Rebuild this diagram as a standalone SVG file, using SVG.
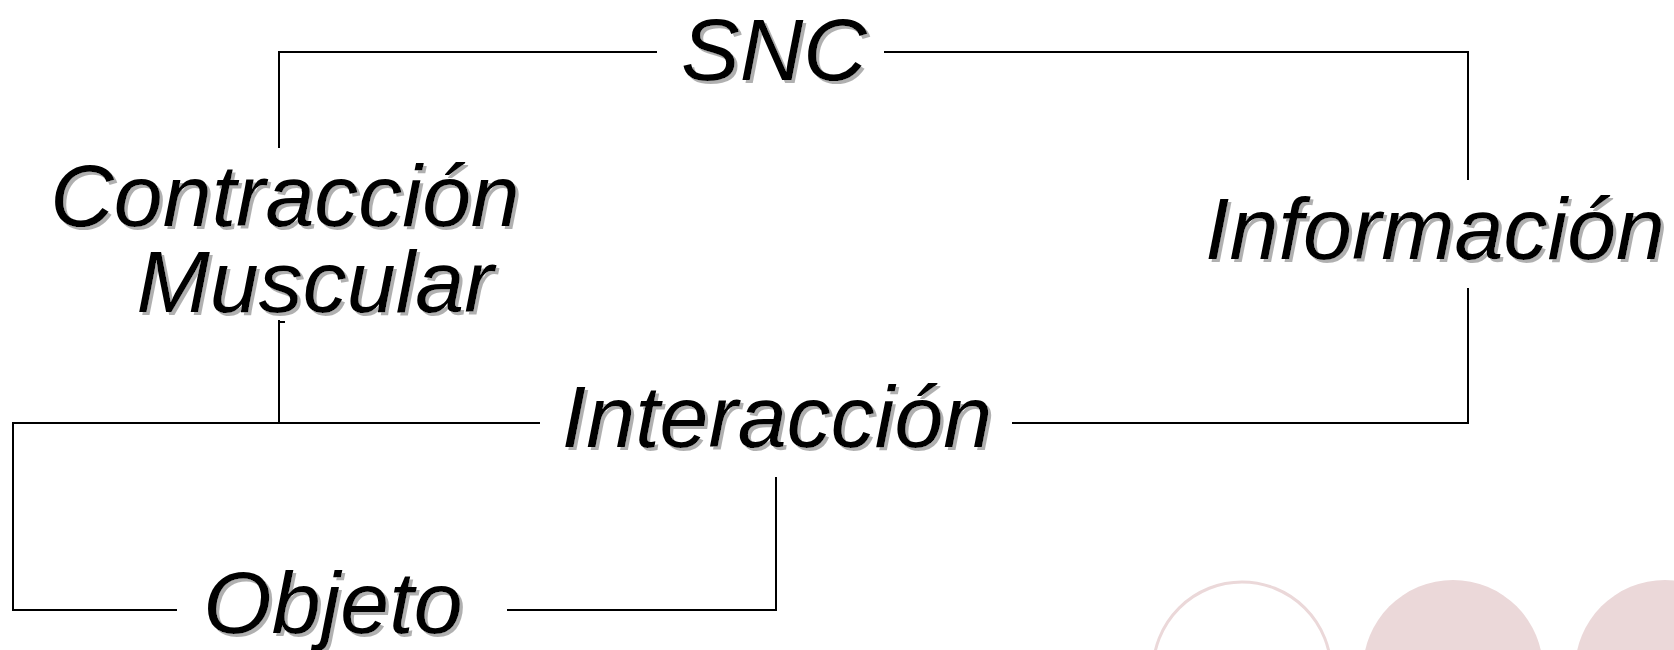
<svg xmlns="http://www.w3.org/2000/svg" width="1674" height="650" viewBox="0 0 1674 650">
  <style>
    .lbl { font-family: "Liberation Sans", Arial, sans-serif; font-style: italic; font-size: 88px; fill: #000; text-anchor: middle; filter: url(#sh); }
    .ln { fill: none; stroke: #000; stroke-width: 2; }
    .deco { fill: #ebd8d9; }
  </style>
  <defs>
    <filter id="sh" x="-10%" y="-20%" width="120%" height="150%">
      <feDropShadow dx="3" dy="3" stdDeviation="0.6" flood-color="#a8a8a8" flood-opacity="0.9"/>
    </filter>
  </defs>
  <rect width="1674" height="650" fill="#fff"/>
  <g id="decoration">
    <circle cx="1242" cy="671" r="89" fill="none" stroke="#ebd8d9" stroke-width="3"/>
    <circle class="deco" cx="1453" cy="670" r="90"/>
    <circle class="deco" cx="1665" cy="670" r="90"/>
  </g>
  <g id="connectors">
    <polyline class="ln" points="279,148 279,52 657,52"/>
    <polyline class="ln" points="884,52 1468,52 1468,180"/>
    <polyline class="ln" points="1468,288 1468,423 1012,423"/>
    <polyline class="ln" points="540,423 13,423 13,610 177,610"/>
    <polyline class="ln" points="279,423 279,320"/>
    <line class="ln" x1="279" y1="322" x2="285" y2="322" stroke-width="1"/>
    <polyline class="ln" points="507,610 776,610 776,477"/>
  </g>
  <g id="node-snc"><text class="lbl" x="774" y="80">SNC</text></g>
  <g id="node-contraccion">
    <text class="lbl" x="285" y="226">Contracción</text>
    <text class="lbl" x="315" y="312">Muscular</text>
  </g>
  <g id="node-informacion"><text class="lbl" x="1435" y="259">Información</text></g>
  <g id="node-interaccion"><text class="lbl" x="777" y="447">Interacción</text></g>
  <g id="node-objeto"><text class="lbl" x="333" y="633">Objeto</text></g>
</svg>
